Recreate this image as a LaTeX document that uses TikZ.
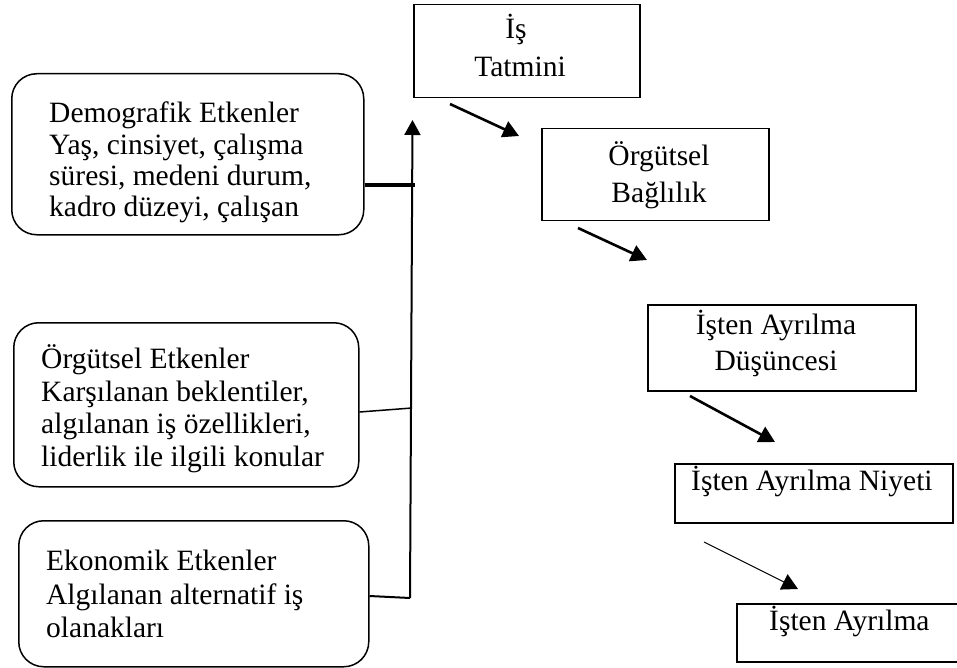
\documentclass[tikz,border=0pt]{standalone}
\usepackage{fontspec}
\setmainfont{Liberation Serif}
\usetikzlibrary{arrows.meta}
\newcommand{\txt}[2]{\fontsize{29.5}{#1}\selectfont\begin{tabular}[t]{@{}#2@{}}}
\begin{document}
\begin{tikzpicture}[x=1pt,y=-1pt,
  sqbox/.style={draw,line width=1.5pt,rectangle,inner sep=0pt,anchor=north west},
  rbox/.style={draw,line width=1.5pt,rectangle,rounded corners=25pt,inner sep=0pt,anchor=north west},
  lbl/.style={inner sep=0pt,anchor=base west,font=\fontsize{29.5}{33}\selectfont},
  clbl/.style={inner sep=0pt,anchor=base,font=\fontsize{29.5}{33}\selectfont},
  flow/.style={line width=2.6pt,-{Triangle[width=17pt,length=16pt]}},
  thinflow/.style={line width=1.1pt,-{Triangle[width=17pt,length=16pt]}}]
\useasboundingbox (0,0) rectangle (957,668);
% right-hand chain
\node[sqbox,minimum width=226pt,minimum height=93pt] (is) at (413,4) {};
\node[clbl] (ist1) at (516,39) {İş};
\node[clbl] (ist2) at (520,77) {Tatmini};
\node[sqbox,minimum width=227pt,minimum height=92pt] (ob) at (541,128) {};
\node[clbl] (obt) at (659,165.5) {\txt{37}{c}Örgütsel\\Bağlılık\end{tabular}};
\node[sqbox,minimum width=268pt,minimum height=86pt] (dus) at (647,304) {};
\node[clbl] (dust) at (776,334) {\txt{36}{c}İşten Ayrılma\\Düşüncesi\end{tabular}};
\node[sqbox,minimum width=278pt,minimum height=59pt] (niy) at (674,463) {};
\node[lbl] (niyt) at (691,490.5) {İşten Ayrılma Niyeti};
\node[sqbox,minimum width=240pt,minimum height=58pt] (ayr) at (736,603) {};
\node[lbl] (ayrt) at (769,630) {İşten Ayrılma};
% left factors
\node[rbox,minimum width=352pt,minimum height=161pt] (dem) at (11,73) {};
\node[lbl] (demt) at (49,123) {\txt{31.2}{l}Demografik Etkenler\\Yaş, cinsiyet, çalışma\\süresi, medeni durum,\\kadro düzeyi, çalışan\end{tabular}};
\node[rbox,minimum width=345pt,minimum height=164pt] (org) at (13,322) {};
\node[lbl] (orgt) at (41,368.3) {\txt{32.8}{l}Örgütsel Etkenler\\Karşılanan beklentiler,\\algılanan iş özellikleri,\\liderlik ile ilgili konular\end{tabular}};
\node[rbox,minimum width=350pt,minimum height=146pt] (eko) at (18,520) {};
\node[lbl] (ekot) at (46,570.7) {\txt{33.3}{l}Ekonomik Etkenler\\Algılanan alternatif iş\\olanakları\end{tabular}};
% connectors
\coordinate (bot) at (410,598);
\coordinate (top) at (412.5,120);
\coordinate (jd) at (415,185);
\coordinate (jo) at (412,408);
\draw[line width=2pt,-{Triangle[width=16pt,length=15pt]}] (bot) -- (top);
\draw[line width=4pt] (dem.east |- jd) -- (jd);
\draw[line width=1.5pt] (org.east |- 0,412) -- (jo);
\draw[line width=2pt] (eko.east |- 0,596) -- (bot);
\coordinate (a1s) at (450,104); \coordinate (a1e) at (519,136);
\coordinate (a2s) at (578,228); \coordinate (a2e) at (647,260);
\coordinate (a3s) at (690,396); \coordinate (a3e) at (775,442);
\coordinate (a4s) at (704,542); \coordinate (a4e) at (798,589);
\draw[flow] (a1s) -- (a1e);
\draw[flow] (a2s) -- (a2e);
\draw[flow] (a3s) -- (a3e);
\draw[thinflow] (a4s) -- (a4e);
\end{tikzpicture}
\end{document}
